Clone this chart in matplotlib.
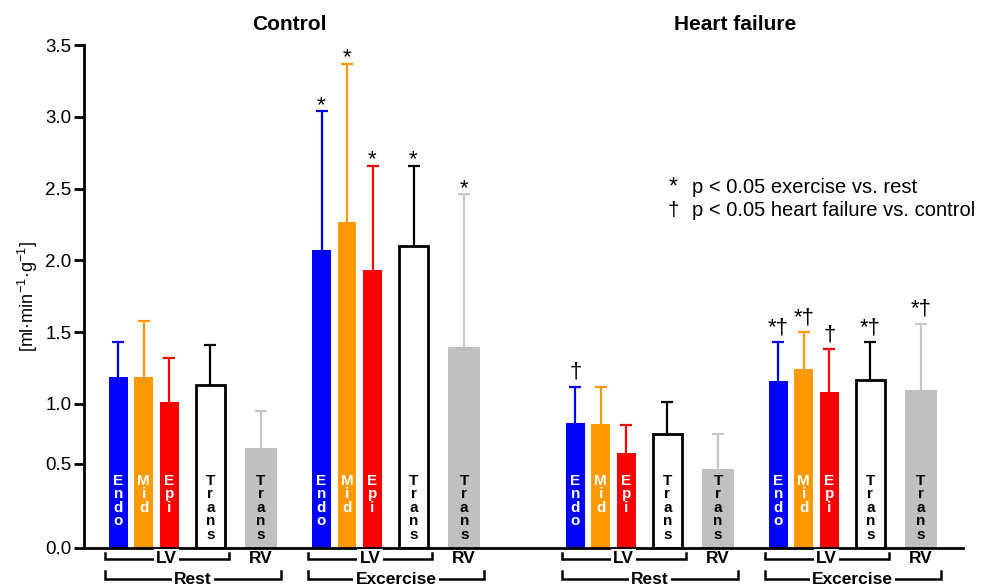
import numpy as np
import matplotlib
matplotlib.use("Agg")
import matplotlib.pyplot as plt

# === 폰트 설정 ===
plt.rcParams["font.family"] = ["Liberation Sans", "DejaVu Sans"]
plt.rcParams["mathtext.fontset"] = "custom"
plt.rcParams["mathtext.rm"] = "Liberation Sans"

# === 데이터 (mean, SD) ===
segments = ["Endo", "Mid", "Epi", "Trans", "Trans"]
groups = ["Control rest", "Control exercise", "HF rest", "HF exercise"]

control_rest_mean = [1.19, 1.19, 1.01, 1.13, 0.69]
control_rest_sd = [0.24, 0.39, 0.31, 0.28, 0.26]
control_ex_mean = [2.07, 2.27, 1.93, 2.10, 1.40]
control_ex_sd = [0.97, 1.10, 0.73, 0.56, 1.06]
hf_rest_mean = [0.87, 0.86, 0.66, 0.79, 0.55]
hf_rest_sd = [0.25, 0.26, 0.19, 0.22, 0.24]
hf_ex_mean = [1.16, 1.24, 1.08, 1.17, 1.10]
hf_ex_sd = [0.27, 0.26, 0.30, 0.26, 0.46]

control_rest_sig = ["", "", "", "", ""]
control_ex_sig = ["*", "*", "*", "*", "*"]
hf_rest_sig = ["†", "", "", "", ""]
hf_ex_sig = ["*†", "*†", "†", "*†", "*†"]

y_ticks = [0.0, 0.585, 1.0, 1.5, 2.0, 2.5, 3.0, 3.5]
y_tick_labels = ["0.0", "0.5", "1.0", "1.5", "2.0", "2.5", "3.0", "3.5"]

# === 스타일 / 레이아웃 ===
face_colors = ["#0000ff", "#ff9900", "#ff0000", "white", "#c0c0c0"]
err_colors = ["#0000ff", "#ff9900", "#ff0000", "black", "#c8c8c8"]
text_colors = ["white", "white", "white", "black", "black"]
edge_colors = ["none", "none", "none", "black", "none"]
bar_widths = [18.7, 18.7, 18.7, 29.5, 32.0]
offsets = [0, 25.5, 51, 92, 142.7]
group_starts = [118.3, 321.5, 575.3, 778.3]
bottom_labels = ["Rest", "Excercise", "Rest", "Excercise"]

all_means = [control_rest_mean, control_ex_mean, hf_rest_mean, hf_ex_mean]
all_sds = [control_rest_sd, control_ex_sd, hf_rest_sd, hf_ex_sd]
all_sigs = [control_rest_sig, control_ex_sig, hf_rest_sig, hf_ex_sig]

W, H = 986, 586
fig = plt.figure(figsize=(W / 100, H / 100), dpi=100)
ax = fig.add_axes([84 / W, 1 - 547.5 / H, (963 - 84) / W, (547.5 - 45) / H])

for g, start in enumerate(group_starts):
    xs = [start + o for o in offsets]
    means = all_means[g]
    sds = all_sds[g]
    for i in range(5):
        eb = ax.errorbar(xs[i], means[i], yerr=[[0], [sds[i]]], fmt="none",
                         ecolor=err_colors[i], elinewidth=1.6, capsize=4.3,
                         capthick=1.6, zorder=1)
        eb[1][0].set_visible(False)  # 아래쪽 캡 숨김
        lw = 2.0 if edge_colors[i] != "none" else 0
        ax.bar(xs[i], means[i], width=bar_widths[i], color=face_colors[i],
               edgecolor=edge_colors[i], linewidth=lw, zorder=2)
        ax.text(xs[i], 0.515, "\n".join(segments[i]), ha="center", va="top",
                color=text_colors[i], fontsize=11, fontweight="bold",
                linespacing=0.96, zorder=3)
        sig = all_sigs[g][i]
        if sig:
            dy = 6.5 if "†" in sig else 0.0
            ax.annotate(sig, (xs[i], means[i] + sds[i]), xytext=(0, dy),
                        textcoords="offset points", ha="center", va="baseline",
                        fontsize=16, zorder=4)

    # 아래쪽 괄호 (LV / Rest)
    lv_left = xs[0] - bar_widths[0] / 2 - 4
    lv_right = xs[3] + bar_widths[3] / 2 + 3.5
    all_right = xs[4] + bar_widths[4] / 2 + 3.5
    y_lv = -0.080
    y_lv_tip = -0.038
    y_rest = -0.222
    y_rest_tip = -0.165
    ax.plot([lv_left, lv_left, lv_right, lv_right], [y_lv_tip, y_lv, y_lv, y_lv_tip],
            color="black", lw=1.8, clip_on=False, solid_joinstyle="miter")
    ax.plot([lv_left, lv_left, all_right, all_right], [y_rest_tip, y_rest, y_rest, y_rest_tip],
            color="black", lw=1.8, clip_on=False, solid_joinstyle="miter")
    ax.text((lv_left + lv_right) / 2, y_lv, "LV", ha="center", va="center",
            fontsize=12.5, fontweight="bold",
            bbox=dict(facecolor="white", edgecolor="none", pad=1.5))
    ax.text(xs[4], y_lv, "RV", ha="center", va="center",
            fontsize=12.5, fontweight="bold")
    ax.text((lv_left + all_right) / 2, y_rest, bottom_labels[g], ha="center",
            va="center", fontsize=12.5, fontweight="bold",
            bbox=dict(facecolor="white", edgecolor="none", pad=1.5))

# 제목
ax.text(289, 3.64, "Control", ha="center", va="center", fontsize=15, fontweight="bold")
ax.text(735, 3.64, "Heart failure", ha="center", va="center", fontsize=15, fontweight="bold")

# 범례 텍스트
ax.text(673, 2.505, "*", ha="center", va="center", fontsize=17)
ax.text(692, 2.51, "p < 0.05 exercise vs. rest", ha="left", va="center", fontsize=14.5)
ax.text(673, 2.35, "†", ha="center", va="center", fontsize=15)
ax.text(692, 2.345, "p < 0.05 heart failure vs. control", ha="left", va="center", fontsize=14.5)

# 축 설정
ax.set_xlim(84, 963)
ax.set_ylim(0, 3.5)
ax.set_yticks(y_ticks)
ax.set_yticklabels(y_tick_labels, fontsize=13.5)
ax.set_xticks([])
for side in ["top", "right"]:
    ax.spines[side].set_visible(False)
ax.spines["left"].set_linewidth(2.0)
ax.spines["bottom"].set_linewidth(2.0)
ax.tick_params(axis="y", direction="out", length=7, width=2.0, pad=2)
ax.set_ylabel(r"[ml·min$^{\mathregular{-1}}$·g$^{\mathregular{-1}}$]", fontsize=13, labelpad=4)

fig.savefig("out.png", dpi=100)
